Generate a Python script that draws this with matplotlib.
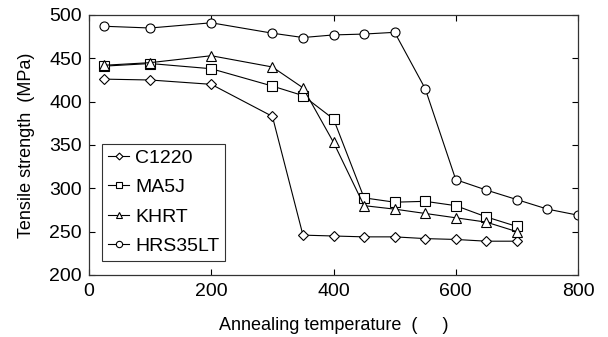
import matplotlib
matplotlib.use("Agg")
import matplotlib.pyplot as plt

plt.rcParams['font.family'] = ['Liberation Sans', 'DejaVu Sans']

temps_short = [25, 100, 200, 300, 350, 400, 450, 500, 550, 600, 650, 700]
temps_long = [25, 100, 200, 300, 350, 400, 450, 500, 550, 600, 650, 700, 750, 800]
c1220 = [426, 425, 420, 383, 246, 245, 244, 244, 242, 241, 239, 239]
ma5j = [441, 444, 438, 418, 407, 380, 289, 284, 285, 280, 267, 256]
khrt = [442, 445, 453, 440, 416, 353, 280, 276, 271, 266, 261, 250]
hrs35lt = [487, 485, 491, 479, 474, 477, 478, 480, 415, 310, 298, 287, 276, 269]

fig = plt.figure(figsize=(6.08, 3.37), dpi=100)
ax = fig.add_axes([0.1464, 0.184, 0.8043, 0.7715])

common = dict(color='black', lw=0.8, mfc='white', mec='black', mew=0.8, ms=6.5)
ax.plot(temps_short, c1220, marker='D', label='C1220', **{**common, 'ms': 5})
ax.plot(temps_short, ma5j, marker='s', label='MA5J', **common)
ax.plot(temps_short, khrt, marker='^', label='KHRT', **common)
ax.plot(temps_long, hrs35lt, marker='o', label='HRS35LT', **common)

ax.set_xlim(0, 800)
ax.set_ylim(200, 500)
ax.set_xticks([0, 200, 400, 600, 800])
ax.set_yticks([200, 250, 300, 350, 400, 450, 500])
ax.tick_params(direction='in', top=True, right=True, length=4, width=0.8,
               labelsize=14)
ax.tick_params(axis='x', pad=6)
ax.tick_params(axis='y', pad=5)
for s in ax.spines.values():
    s.set_linewidth(0.9)
    s.set_color('#333333')

ax.set_xlabel('Annealing temperature  (     )', fontsize=13, labelpad=12)
ax.set_ylabel('Tensile strength  (MPa)', fontsize=13, labelpad=10)

leg = ax.legend(loc='lower left', bbox_to_anchor=(0.027, 0.055), borderaxespad=0,
                fontsize=14, frameon=True, fancybox=False, edgecolor='black',
                handlelength=1.1, handletextpad=0.3, borderpad=0.3,
                labelspacing=0.6, markerscale=0.7)
leg.get_frame().set_linewidth(0.8)

fig.savefig('out.png', dpi=100)
